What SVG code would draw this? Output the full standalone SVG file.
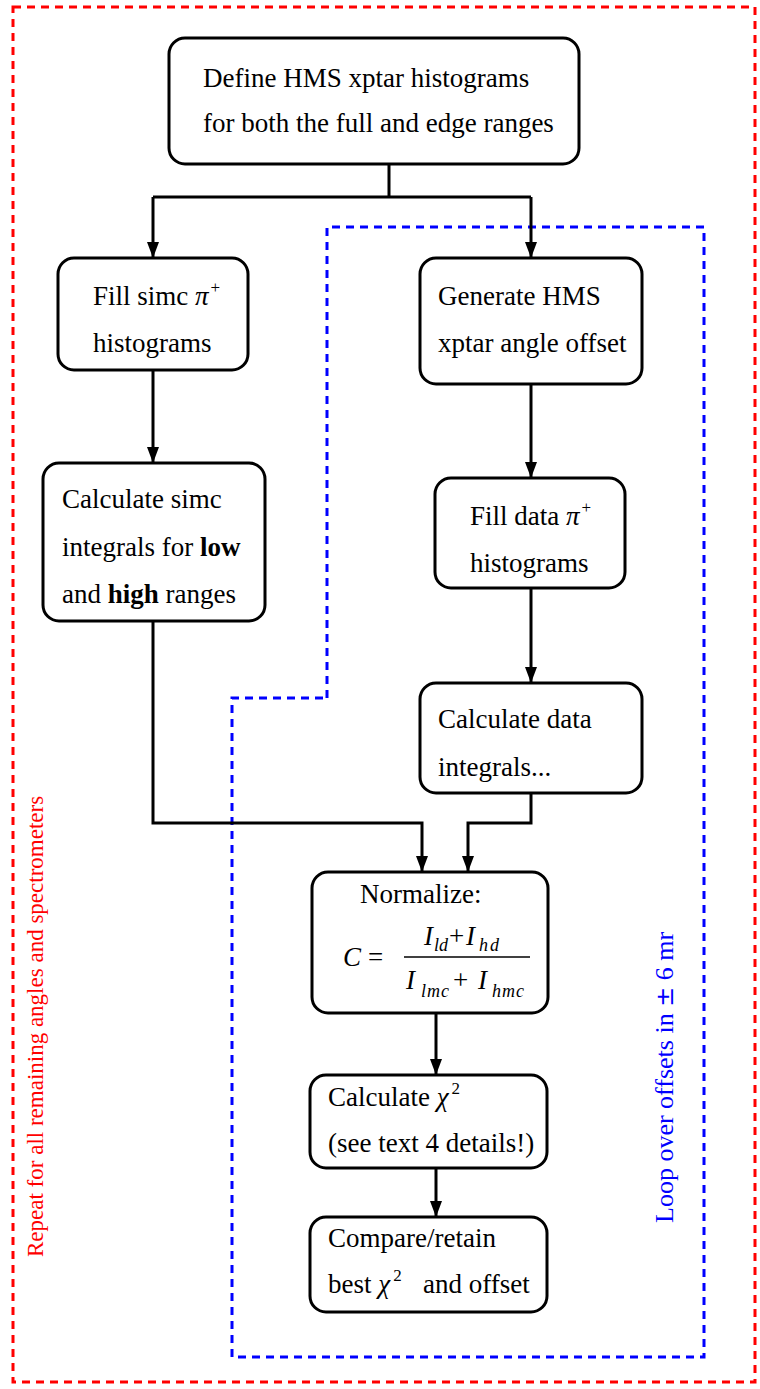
<svg xmlns="http://www.w3.org/2000/svg" width="760" height="1389" viewBox="0 0 760 1389">
  <defs>
    <!-- arrowhead drawn along +x so that orient="auto" turns it with the line -->
    <marker id="arrow" markerUnits="userSpaceOnUse" markerWidth="16" markerHeight="12" viewBox="0 0 16 12" refX="16" refY="6" orient="auto">
      <path d="M0,0 L16,6 L0,12 Z" fill="#000"/>
    </marker>
    <style>
      .box { fill: #fff; stroke: #000; stroke-width: 3; }
      .lbl { font-family: "Liberation Serif", "Times New Roman", serif; font-size: 27px; fill: #000; }
      .sup { font-size: 17px; }
      .it { font-style: italic; }
      .b { font-weight: bold; }
      .wire { fill: none; stroke: #000; stroke-width: 3; }
      .down { fill: none; stroke: #000; stroke-width: 3; marker-end: url(#arrow); }
      .math { font-family: "Liberation Serif", "Times New Roman", serif; font-style: italic; fill: #000; }
    </style>
  </defs>

  <rect width="760" height="1389" fill="#fff"/>

  <!-- outer loop frame (red) and offset loop frame (blue) -->
  <g id="frames">
    <rect x="13" y="7" width="742" height="1375" fill="none" stroke="#f00" stroke-width="3" stroke-dasharray="8 6"/>
    <path d="M327,698 V227 H704 V1357 H232 V698 Z" fill="none" stroke="#00f" stroke-width="3" stroke-dasharray="8 6"/>
    <text transform="translate(43,1257) rotate(-90)" font-family="Liberation Serif, serif" font-size="23" fill="#f00">Repeat for all remaining angles and spectrometers</text>
    <text transform="translate(673,1223) rotate(-90)" font-family="Liberation Serif, serif" font-size="26" fill="#00f">Loop over offsets in <tspan font-family="DejaVu Serif, serif" font-size="24">±</tspan> 6 mr</text>
  </g>

  <g id="connectors">
    <path class="wire" d="M389,164 V197 M153,197 H531"/>
    <path class="down" d="M153,197 V258"/>
    <path class="down" d="M531,197 V258"/>
    <path class="down" d="M153,370 V463"/>
    <path class="down" d="M531,384 V478"/>
    <path class="down" d="M531,588 V683"/>
    <path class="down" d="M153,621 V823 H422 V872"/>
    <path class="down" d="M531,793 V823 H468 V872"/>
    <path class="down" d="M436,1013 V1075"/>
    <path class="down" d="M436,1168 V1217"/>
  </g>

  <g id="define-histograms">
    <rect class="box" x="169" y="38" width="410" height="126" rx="16"/>
    <text class="lbl" x="203" y="87" font-size="28">Define HMS xptar histograms</text>
    <text class="lbl" x="203" y="132" font-size="28">for both the full and edge ranges</text>
  </g>

  <g id="fill-simc">
    <rect class="box" x="58" y="258" width="190" height="112" rx="16"/>
    <text class="lbl" x="93" y="305">Fill simc <tspan class="it">π</tspan><tspan class="sup" dx="2" dy="-12">+</tspan></text>
    <text class="lbl" x="93" y="352">histograms</text>
  </g>

  <g id="generate-offset">
    <rect class="box" x="420" y="258" width="222" height="126" rx="16"/>
    <text class="lbl" x="438" y="305">Generate HMS</text>
    <text class="lbl" x="438" y="352">xptar angle offset</text>
  </g>

  <g id="simc-integrals">
    <rect class="box" x="43" y="463" width="222" height="158" rx="16"/>
    <text class="lbl" x="62" y="508">Calculate simc</text>
    <text class="lbl" x="62" y="556">integrals for <tspan class="b">low</tspan></text>
    <text class="lbl" x="62" y="603">and <tspan class="b">high</tspan> ranges</text>
  </g>

  <g id="fill-data">
    <rect class="box" x="435" y="478" width="190" height="110" rx="16"/>
    <text class="lbl" x="470" y="525">Fill data <tspan class="it">π</tspan><tspan class="sup" dx="2" dy="-12">+</tspan></text>
    <text class="lbl" x="470" y="572">histograms</text>
  </g>

  <g id="data-integrals">
    <rect class="box" x="420" y="683" width="222" height="110" rx="16"/>
    <text class="lbl" x="438" y="728">Calculate data</text>
    <text class="lbl" x="438" y="776">integrals...</text>
  </g>

  <g id="normalize">
    <rect class="box" x="312" y="872" width="236" height="141" rx="16"/>
    <text class="lbl" x="360" y="903">Normalize:</text>
    <text class="math" x="343" y="966" font-size="27">C</text>
    <text class="lbl" x="368" y="966">=</text>
    <line x1="404" y1="957" x2="530" y2="957" stroke="#000" stroke-width="1.5"/>
    <text class="math" x="424" y="945" font-size="27">I</text>
    <text class="math" x="434" y="951" font-size="18">ld</text>
    <text class="lbl" x="449" y="945">+</text>
    <text class="math" x="466" y="945" font-size="27">I</text>
    <text class="math" x="479" y="951" font-size="18" letter-spacing="2">hd</text>
    <text class="math" x="406" y="989" font-size="27">I</text>
    <text class="math" x="421" y="997" font-size="18" letter-spacing="1">lmc</text>
    <text class="lbl" x="453" y="989">+</text>
    <text class="math" x="478" y="989" font-size="27">I</text>
    <text class="math" x="492" y="997" font-size="18" letter-spacing="1">hmc</text>
  </g>

  <g id="chi-square">
    <rect class="box" x="310" y="1075" width="237" height="93" rx="16"/>
    <text class="lbl" x="328" y="1106">Calculate <tspan class="it">χ</tspan><tspan class="sup" dx="3" dy="-12">2</tspan></text>
    <text class="lbl" x="328" y="1152">(see text 4 details!)</text>
  </g>

  <g id="compare-retain">
    <rect class="box" x="310" y="1217" width="237" height="95" rx="16"/>
    <text class="lbl" x="328" y="1247">Compare/retain</text>
    <text class="lbl" x="328" y="1293">best <tspan class="it">χ</tspan><tspan class="sup" dx="3" dy="-12">2</tspan></text>
    <text class="lbl" x="423" y="1293">and offset</text>
  </g>
</svg>
